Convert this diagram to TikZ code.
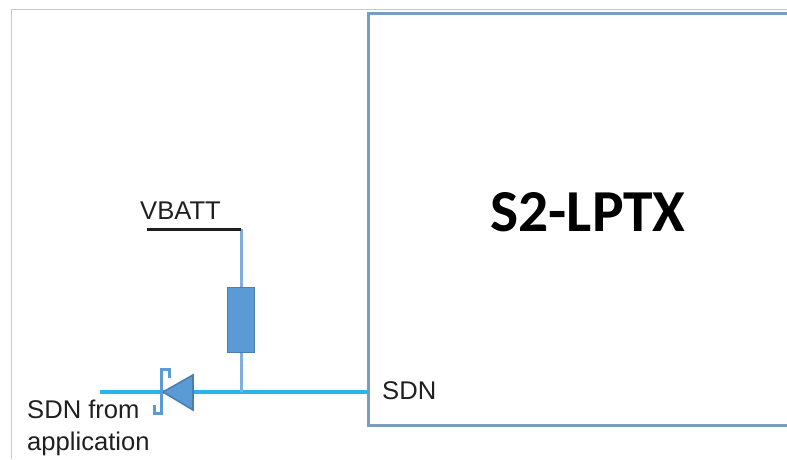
\documentclass[tikz,border=0pt]{standalone}
\usepackage{fontspec}
\setmainfont{Liberation Sans}
\newfontfamily\carl{Carlito}
\definecolor{boxblue}{HTML}{7A9CC0}
\definecolor{wireblue}{HTML}{29B5EA}
\definecolor{partblue}{HTML}{5B9BD5}
\definecolor{partedge}{HTML}{4A7EAD}
\definecolor{stubblue}{HTML}{7FAEDC}
\definecolor{framegray}{HTML}{C8C8C8}
\tikzset{
  label text/.style={inner sep=0pt,font=\fontsize{25.6}{32.5}\selectfont,text=black!88},
  part/.style={draw=partedge,fill=partblue,line width=1.6pt},
  stub/.style={draw=stubblue,line width=3pt},
  wire/.style={draw=wireblue,line width=3.4pt}
}
\begin{document}
\begin{tikzpicture}[x=1pt,y=-1pt]
\useasboundingbox (0,0) rectangle (787,459);
\fill[white] (0,0) rectangle (787,459);
\draw[framegray,line width=1.6pt] (11.5,459) -- (11.5,9.5) -- (787,9.5);
\draw[boxblue,line width=3pt] (787,13.5) -- (368,13.5) -- (368,425) -- (787,425);
\node[font=\carl\bfseries\fontsize{59.5}{70}\selectfont,inner sep=0pt] (title) at (588,212) {S2-LPTX};
\node[label text,anchor=west] (sdn) at (382,391) {SDN};
\node[label text,anchor=west] (vbatt) at (140,211) {VBATT};
\node[label text,align=left,anchor=north west] (app) at (27,399.5) {SDN from\\application};
\coordinate (vl) at (147,229);
\coordinate (vr) at (241,229);
\coordinate (junction) at (241,392);
\coordinate (boxpin) at (368,392);
\coordinate (free) at (100,392);
\node[part,minimum width=27pt,minimum height=65pt,inner sep=0pt,anchor=north] (res) at (241,286.5) {};
\draw[wire] (free) -- (boxpin);
\draw[stub] (vr) -- (res.north);
\draw[stub] (res.south) -- (junction);
\draw[black!88,line width=3pt] (vl) -- (vr);
\fill[part] (193,375) -- (193,410) -- (163,392) -- cycle;
\draw[partblue,line width=3pt,line join=miter] (169,378) -- (169,369.5) -- (161.5,369.5) -- (161.5,413) -- (154,413) -- (154,405);
\end{tikzpicture}
\end{document}
